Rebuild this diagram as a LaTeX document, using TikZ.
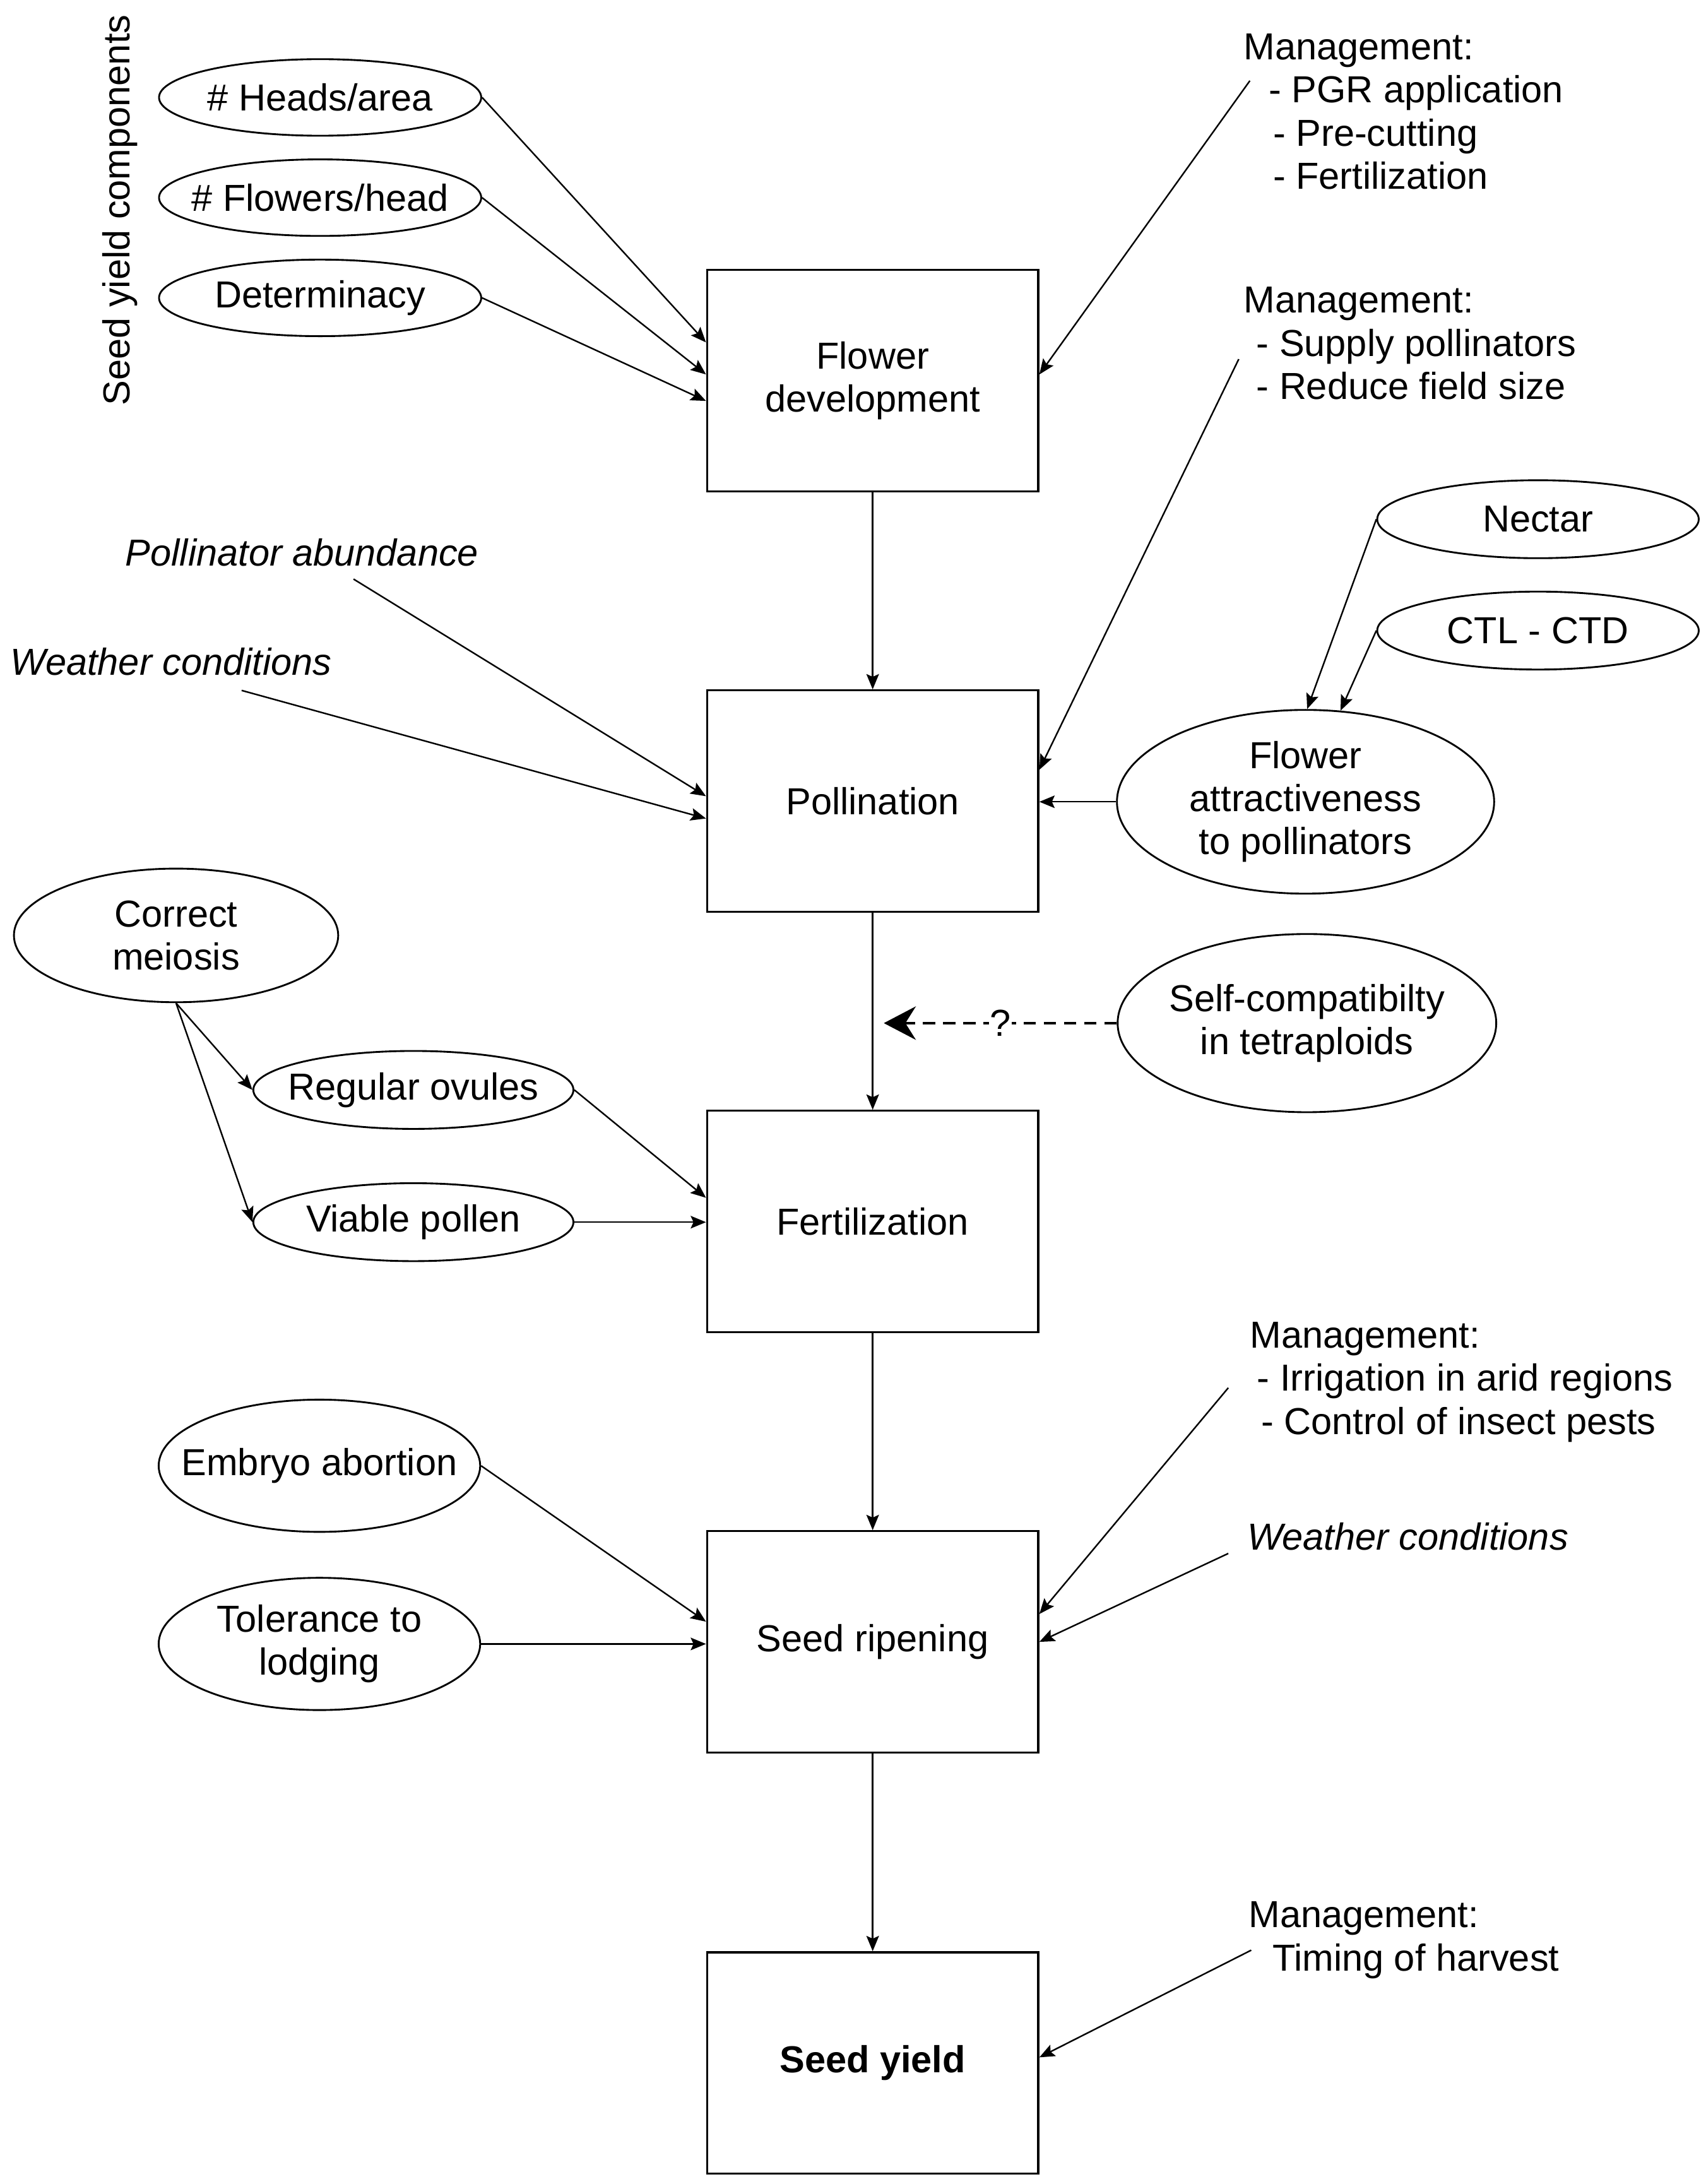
\documentclass[tikz,border=0pt]{standalone}
\usepackage{fontspec}
\setmainfont{Liberation Sans}
\usetikzlibrary{shapes.geometric,arrows.meta}
\begin{document}
\begin{tikzpicture}[x=1pt,y=-1pt,
  every node/.style={font=\fontsize{27}{31}\selectfont, inner sep=0pt},
  box/.style={draw, line width=1.5pt, minimum width=238pt, minimum height=159pt, align=center},
  ell/.style={draw, ellipse, line width=1.3pt},
  note/.style={align=left, anchor=north west},
  conn/.style={line width=1.1pt, -{Stealth[length=11pt,width=9pt,inset=2pt]}},
  dashconn/.style={line width=1.8pt, dash pattern=on 9pt off 5.5pt, -{Stealth[length=23pt,width=24pt,inset=7.5pt]}},
]
\useasboundingbox (0,0) rectangle (1225.3,1569);

% main boxes
\node[box] (fd) at (627,273.5) {Flower\\development};
\node[box] (po) at (627,575.5) {Pollination};
\node[box] (fe) at (627,877.5) {Fertilization};
\node[box] (sr) at (627,1179.5) {Seed ripening};
\node[box, font=\fontsize{27}{31}\selectfont\bfseries] (sy) at (627,1482) {Seed yield};

% seed yield components
\node[rotate=90] (syc) at (86,151) {Seed yield components};
\node[ell, minimum width=231.5pt, minimum height=55pt, label={center:\# Heads/area}] (hd) at (230,70) {};
\node[ell, minimum width=231.5pt, minimum height=55pt, label={center:\# Flowers/head}] (fl) at (230,142) {};
\node[ell, minimum width=231.5pt, minimum height=55pt, label={center:Determinacy}] (dt) at (230,214) {};

% management notes
\node[note] (m1) at (893.5,24) {Management:\\\hspace*{18pt}- PGR application\\\hspace*{21pt}- Pre-cutting\\\hspace*{21pt}- Fertilization};
\node[note] (m2) at (893.5,206) {Management:\\\hspace*{9pt}- Supply pollinators\\\hspace*{9pt}- Reduce field size};
\node[note] (m3) at (898,949.5) {Management:\\\hspace*{5pt}- Irrigation in arid regions\\\hspace*{8pt}- Control of insect pests};
\node[note] (m4) at (897,1366) {Management:\\\hspace*{17pt}Timing of harvest};

% italic factors
\node (pa) at (217,397) {\itshape Pollinator abundance};
\node (wc1) at (123,475.5) {\itshape Weather conditions};
\node[anchor=west] (wc2) at (896,1104) {\itshape Weather conditions};

% right ellipses
\node[ell, minimum width=231pt, minimum height=56pt, label={center:Nectar}] (nc) at (1105,373) {};
\node[ell, minimum width=231pt, minimum height=56pt, label={center:CTL - CTD}] (ct) at (1105,453) {};
\node[ell, minimum width=271pt, minimum height=132pt, label={[align=center]center:{Flower\\attractiveness\\to pollinators}}] (fa) at (938,576) {};
\node[ell, minimum width=272pt, minimum height=128pt, label={[align=center]center:{Self-compatibilty\\in tetraploids}}] (sc) at (939,735) {};

% left ellipses
\node[ell, minimum width=233pt, minimum height=96pt, label={[align=center]center:{Correct\\meiosis}}] (cm) at (126.5,672) {};
\node[ell, minimum width=230pt, minimum height=56pt, label={center:Regular ovules}] (ro) at (297,783) {};
\node[ell, minimum width=230pt, minimum height=56pt, label={center:Viable pollen}] (vp) at (297,878) {};
\node[ell, minimum width=231pt, minimum height=95pt, label={center:Embryo abortion}] (ea) at (229.5,1053) {};
\node[ell, minimum width=231pt, minimum height=95pt, label={[align=center]center:{Tolerance to\\lodging}}] (tl) at (229.5,1181) {};

% free ends
\coordinate (m1s) at (898,58);
\coordinate (m2s) at (890,258);
\coordinate (pas) at (254,416);
\coordinate (wcs) at (173.6,496);
\coordinate (m3s) at (882.5,997);
\coordinate (w2s) at (882.5,1116);
\coordinate (m4s) at (899,1401);
\coordinate (dtip) at (635,735);

% connectors
\draw[conn] (hd.east) -- ([yshift=27.5pt]fd.west);
\draw[conn] (fl.east) -- ([yshift=4.5pt]fd.west);
\draw[conn] (dt.east) -- ([yshift=-14.5pt]fd.west);
\draw[conn] (m1s) -- ([yshift=4.5pt]fd.east);

\draw[conn] (fd.south) -- (po.north);
\draw[conn] (po.south) -- (fe.north);
\draw[conn] (fe.south) -- (sr.north);
\draw[conn] (sr.south) -- (sy.north);

\draw[conn] (m2s) -- ([yshift=22.5pt]po.east);
\draw[conn] (pas) -- ([yshift=3.5pt]po.west);
\draw[conn] (wcs) -- ([yshift=-12.5pt]po.west);
\draw[conn] (nc.west) -- (fa.89);
\draw[conn] (ct.west) -- (fa.69);
\draw[conn] (fa.west) -- (fa.west -| po.east);

\draw[conn] (cm.south) -- (ro.west);
\draw[conn] (cm.south) -- (vp.west);
\draw[conn] (ro.east) -- ([yshift=17pt]fe.west);
\draw[conn] (vp.east) -- (vp.east -| fe.west);
\draw[dashconn] (sc.west) -- node[pos=0.5, fill=white, inner sep=0.5pt] (q) {?} (dtip);

\draw[conn] (ea.east) -- ([yshift=14.5pt]sr.west);
\draw[conn] (tl.east) -- (tl.east -| sr.west);
\draw[conn] (m3s) -- ([yshift=20pt]sr.east);
\draw[conn] (w2s) -- (sr.east);

\draw[conn] (m4s) -- ([yshift=4pt]sy.east);
\end{tikzpicture}
\end{document}
